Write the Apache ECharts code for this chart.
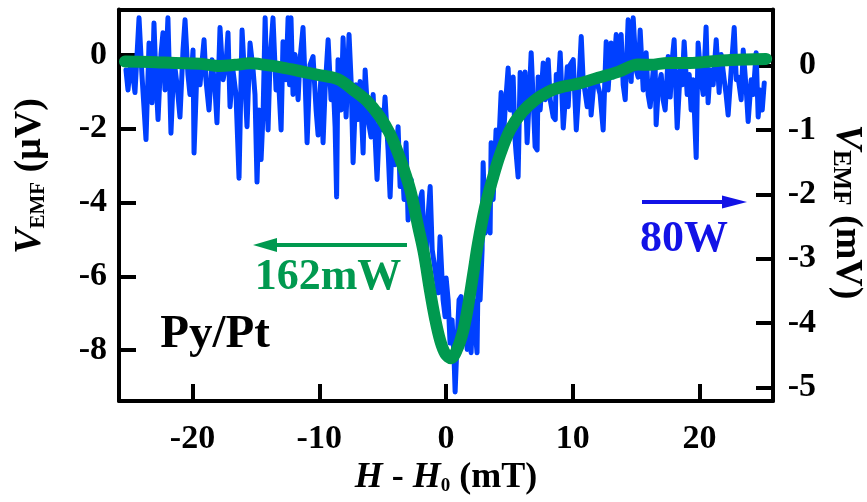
<!DOCTYPE html>
<html>
<head>
<meta charset="utf-8">
<script src="https://cdn.jsdelivr.net/npm/echarts@6/dist/echarts.min.js"></script>
<style>
  html, body { margin: 0; padding: 0; background: #fff; }
  #chart { width: 867px; height: 502px; }
</style>
</head>
<body>
<div id="chart"></div>
<script>
// Measured spin-pumping EMF at 80 W: field offset H - H0 (mT) and EMF (mV)
const blueField = [
  -25.25,-25.09,-24.86,-24.54,-24.22,-23.99,-23.67,-23.43,-23.20,-23.04,
  -22.88,-22.72,-22.49,-22.33,-22.17,-21.94,-21.70,-21.46,-21.22,-20.99,
  -20.75,-20.59,-20.36,-20.20,-19.96,-19.88,-19.65,-19.41,-19.09,-18.94,
  -18.70,-18.46,-18.22,-18.07,-17.83,-17.59,-17.36,-17.20,-17.04,-16.81,
  -16.57,-16.33,-16.09,-15.86,-15.70,-15.46,-15.22,-15.07,-14.91,-14.75,
  -14.59,-14.43,-14.27,-14.04,-13.88,-13.65,-13.41,-13.25,-13.01,-12.86,
  -12.62,-12.46,-12.34,-12.23,-12.07,-11.91,-11.67,-11.52,-11.28,-11.12,
  -10.96,-10.73,-10.49,-10.25,-10.09,-9.86,-9.70,-9.54,-9.30,-9.07,
  -8.91,-8.75,-8.63,-8.52,-8.28,-8.12,-7.88,-7.65,-7.49,-7.33,
  -7.10,-6.94,-6.78,-6.54,-6.38,-6.15,-5.91,-5.75,-5.44,-5.20,
  -4.96,-4.81,-4.57,-4.41,-4.25,-4.02,-3.78,-3.62,-3.46,-3.31,
  -3.15,-2.99,-2.75,-2.52,-2.28,-2.04,-1.89,-1.73,-1.57,-1.41,
  -1.25,-1.09,-0.86,-0.62,-0.47,-0.23,-0.07,0.01,0.17,0.32,
  0.48,0.64,0.72,0.88,1.03,1.19,1.35,1.51,1.67,1.82,
  1.98,2.14,2.30,2.45,2.53,2.69,2.85,2.93,3.09,3.32,
  3.48,3.56,3.72,3.95,4.11,4.35,4.51,4.66,4.90,5.06,
  5.30,5.45,5.53,5.69,5.85,6.01,6.24,6.40,6.56,6.72,
  6.88,7.03,7.19,7.27,7.43,7.67,7.83,8.06,8.22,8.46,
  8.62,8.70,8.85,9.01,9.25,9.41,9.57,9.64,9.80,10.04,
  10.28,10.43,10.67,10.82,10.98,11.14,11.37,11.45,11.69,11.93,
  12.16,12.40,12.64,12.79,13.03,13.19,13.43,13.58,13.82,13.98,
  14.14,14.37,14.61,14.77,15.00,15.16,15.32,15.56,15.79,15.95,
  16.11,16.35,16.50,16.58,16.74,16.98,17.13,17.29,17.53,17.69,
  17.85,18.00,18.24,18.48,18.63,18.79,19.03,19.19,19.34,19.50,
  19.74,19.89,20.13,20.29,20.52,20.68,20.84,21.08,21.32,21.55,
  21.71,21.95,22.10,22.26,22.50,22.74,22.90,23.05,23.29,23.45,
  23.69,23.84,24.08,24.24,24.47,24.63,24.79,24.95,25.11
];
const blueEmf = [
  -0.07,-0.38,0.09,-0.42,0.74,-0.14,-1.15,0.35,-0.58,0.66,
  -0.22,-0.84,0.17,0.51,-0.38,0.74,-1.05,0.09,-0.30,-0.80,
  0.24,0.71,-0.14,-0.45,0.24,-1.36,-0.07,-0.30,0.40,-0.22,
  -0.69,0.09,-0.38,-0.89,0.59,-0.22,0.01,0.51,-0.64,-0.07,
  -0.45,-1.75,0.55,-0.30,-0.95,0.35,-0.07,-0.45,-1.81,-0.69,
  -1.46,-0.73,0.74,-1.00,0.09,0.74,-0.38,-0.07,-1.00,0.37,
  -0.22,0.74,-0.30,0.74,-0.45,0.17,-0.53,0.09,0.59,-0.22,
  -1.20,0.01,0.14,-0.69,-1.08,-0.14,-1.20,-0.38,0.40,-0.53,
  -0.22,-0.95,-2.04,0.09,-0.69,0.43,-0.80,0.48,-0.22,-1.51,
  -0.30,-0.84,-0.25,-1.36,-0.07,-0.84,-1.11,-0.45,-1.77,-0.69,
  -1.00,-0.49,-1.31,-2.04,-1.15,-1.54,-0.95,-1.88,-1.46,-2.08,
  -1.20,-2.40,-1.77,-2.32,-2.50,-2.08,-1.96,-2.71,-3.02,-2.32,
  -1.88,-2.86,-3.17,-3.53,-2.66,-3.64,-3.90,-3.30,-3.64,-4.31,
  -3.95,-4.57,-5.07,-4.26,-3.64,-3.59,-4.10,-3.68,-4.41,-3.79,
  -4.46,-3.64,-4.10,-4.46,-3.28,-3.64,-2.86,-1.51,-2.60,-2.08,
  -2.60,-1.20,-2.08,-1.00,-1.46,-0.42,-1.20,-0.69,-0.04,-0.69,
  -0.18,-1.15,-1.36,-1.73,-0.11,-0.69,-0.10,-1.20,-0.53,0.20,
  -0.53,-1.26,-1.31,-0.18,-0.69,0.04,-0.53,0.09,-0.53,-0.80,
  -0.84,-0.14,-0.38,0.20,-0.97,-0.53,-0.02,-0.64,0.01,0.09,
  -1.00,-0.53,0.45,-0.22,-0.42,-0.64,-0.33,-0.77,-0.22,-0.27,
  -0.45,-1.00,0.37,-0.38,0.35,-0.18,0.48,-0.07,0.48,-0.30,
  -0.53,0.71,-0.25,0.74,-0.07,-0.18,0.55,-0.38,0.20,-0.45,
  -0.64,-0.07,0.01,-0.92,-0.38,-0.14,-0.53,-0.69,0.14,-0.49,
  0.09,0.40,-0.97,-0.07,-0.30,0.37,-0.45,-0.14,-0.69,-0.22,
  -1.43,0.35,-0.22,-0.45,0.60,-0.58,-0.07,-0.30,0.40,-0.42,
  0.17,-0.22,-0.45,-0.77,-0.07,0.59,-0.22,-0.18,-0.53,0.24,
  -0.38,-0.87,-0.22,-0.45,0.20,-0.80,-0.38,-0.69,-0.27
];

// EMF at 162 mW: field offset (mT) and EMF (µV)
const greenField = [
  -25.33,-23.35,-21.38,-19.41,-17.84,-16.65,-15.47,-14.28,-13.10,-11.67,
  -10.10,-8.52,-7.17,-6.23,-5.21,-4.42,-3.63,-2.83,-2.20,-1.73,
  -1.26,-0.86,-0.45,-0.05,0.40,0.85,1.30,1.67,2.14,2.53,
  3.09,3.72,4.27,5.06,6.01,7.03,8.06,9.01,10.43,12.00,
  13.58,15.16,16.10,17.53,19.26,20.84,22.42,25.26
];
const greenEmf = [
  -0.18,-0.19,-0.22,-0.24,-0.30,-0.27,-0.23,-0.27,-0.33,-0.43,
  -0.54,-0.66,-0.99,-1.25,-1.68,-2.14,-2.80,-3.65,-4.65,-5.40,
  -6.40,-7.15,-7.75,-8.10,-8.22,-8.00,-7.55,-6.95,-5.95,-5.10,
  -4.12,-3.31,-2.70,-2.03,-1.55,-1.22,-1.00,-0.88,-0.78,-0.62,
  -0.46,-0.26,-0.27,-0.22,-0.22,-0.18,-0.14,-0.11
];

// Tick positions
const fieldTicks = [-20, -10, 0, 10, 20];
const microVoltTicks = [-8, -6, -4, -2, 0];
const milliVoltTicks = [-5, -4, -3, -2, -1, 0];

const FONT = "'Liberation Serif', 'Times New Roman', serif";
const BLUE = '#0040ff';
const GREEN = '#00994f';
const LABEL_BLUE = '#1212e6';

const frameLine = { show: true, onZero: false, lineStyle: { color: '#000', width: 4 } };
const tickStyle = (vals) => ({ show: true, inside: true, length: 17, customValues: vals,
  lineStyle: { color: '#000', width: 4 } });
const labelStyle = { color: '#000', fontFamily: FONT, fontWeight: 'bold', fontSize: 34 };

const chart = echarts.init(document.getElementById('chart'), null, { renderer: 'canvas' });

chart.setOption({
  animation: false,
  backgroundColor: '#fff',
  grid: { left: 119, right: 94, top: 9.5, bottom: 101, containLabel: false },
  xAxis: [
    {
      type: 'value', min: -25.8, max: 25.8, position: 'bottom',
      axisLine: frameLine,
      axisTick: tickStyle(fieldTicks),
      axisLabel: Object.assign({ customValues: fieldTicks, margin: 21 }, labelStyle),
      splitLine: { show: false }
    },
    {
      type: 'value', min: -25.8, max: 25.8, position: 'top',
      axisLine: frameLine,
      axisTick: { show: false }, axisLabel: { show: false }, splitLine: { show: false }
    }
  ],
  yAxis: [
    {
      type: 'value', min: -9.38, max: 1.23, position: 'left',
      axisLine: frameLine,
      axisTick: tickStyle(microVoltTicks),
      axisLabel: Object.assign({ customValues: microVoltTicks, margin: 12, padding: [8, 0, 0, 0] }, labelStyle),
      splitLine: { show: false }
    },
    {
      type: 'value', min: -5.21, max: 0.87, position: 'right',
      axisLine: frameLine,
      axisTick: tickStyle(milliVoltTicks),
      axisLabel: Object.assign({ customValues: milliVoltTicks, margin: 43, align: 'right', padding: [10, 0, 0, 0] }, labelStyle),
      splitLine: { show: false }
    }
  ],
  series: [
    {
      name: '80W', type: 'line', xAxisIndex: 0, yAxisIndex: 1,
      data: blueField.map((h, i) => [h, blueEmf[i]]),
      showSymbol: false, symbol: 'none', z: 2,
      lineStyle: { color: BLUE, width: 5, join: 'round', cap: 'round' }
    },
    {
      name: '162mW', type: 'line', xAxisIndex: 0, yAxisIndex: 0,
      data: greenField.map((h, i) => [h, greenEmf[i]]),
      showSymbol: false, symbol: 'none', smooth: 0.35, z: 3,
      lineStyle: { color: GREEN, width: 12, join: 'round', cap: 'round' }
    }
  ],
  graphic: [
    // left axis title
    {
      type: 'text', x: 30, y: 176, rotation: Math.PI / 2, z: 10,
      style: {
        text: '{v|V}{s|EMF}{u| (μV)}', align: 'center', verticalAlign: 'middle', fill: '#000',
        rich: {
          v: { fontFamily: FONT, fontWeight: 'bold', fontStyle: 'italic', fontSize: 38, fill: '#000' },
          s: { fontFamily: FONT, fontWeight: 'bold', fontSize: 21, fill: '#000', verticalAlign: 'bottom' },
          u: { fontFamily: FONT, fontWeight: 'bold', fontSize: 38, fill: '#000' }
        }
      }
    },
    // right axis title
    {
      type: 'text', x: 847, y: 212, rotation: -Math.PI / 2, z: 10,
      style: {
        text: '{v|V}{s|EMF}{u| (mV)}', align: 'center', verticalAlign: 'middle', fill: '#000',
        rich: {
          v: { fontFamily: FONT, fontWeight: 'bold', fontStyle: 'italic', fontSize: 38, fill: '#000' },
          s: { fontFamily: FONT, fontWeight: 'bold', fontSize: 25, fill: '#000', verticalAlign: 'bottom' },
          u: { fontFamily: FONT, fontWeight: 'bold', fontSize: 38, fill: '#000' }
        }
      }
    },
    // x axis title
    {
      type: 'text', x: 446, y: 478, z: 10,
      style: {
        text: '{h|H}{m| - }{h|H}{s|0}{m| (mT)}', align: 'center', verticalAlign: 'middle', fill: '#000',
        rich: {
          h: { fontFamily: FONT, fontWeight: 'bold', fontStyle: 'italic', fontSize: 36, fill: '#000' },
          m: { fontFamily: FONT, fontWeight: 'bold', fontSize: 36, fill: '#000' },
          s: { fontFamily: FONT, fontWeight: 'bold', fontSize: 19, fill: '#000', verticalAlign: 'bottom' }
        }
      }
    },
    // sample label
    {
      type: 'text', x: 215, y: 335, z: 10,
      style: { text: 'Py/Pt', align: 'center', verticalAlign: 'middle', fill: '#000',
        fontFamily: FONT, fontWeight: 'bold', fontSize: 47 }
    },
    // 162 mW label and arrow toward the left axis
    {
      type: 'text', x: 328, y: 278, z: 10,
      style: { text: '162mW', align: 'center', verticalAlign: 'middle', fill: GREEN,
        fontFamily: FONT, fontWeight: 'bold', fontSize: 44 }
    },
    {
      type: 'line', z: 10,
      shape: { x1: 407, y1: 245, x2: 270, y2: 245 },
      style: { stroke: GREEN, lineWidth: 4 }
    },
    {
      type: 'polygon', z: 10,
      shape: { points: [[253, 245], [277, 238], [277, 252]] },
      style: { fill: GREEN }
    },
    // 80 W label and arrow toward the right axis
    {
      type: 'text', x: 684, y: 240, z: 10,
      style: { text: '80W', align: 'center', verticalAlign: 'middle', fill: LABEL_BLUE,
        fontFamily: FONT, fontWeight: 'bold', fontSize: 44 }
    },
    {
      type: 'line', z: 10,
      shape: { x1: 642, y1: 202, x2: 730, y2: 202 },
      style: { stroke: LABEL_BLUE, lineWidth: 4 }
    },
    {
      type: 'polygon', z: 10,
      shape: { points: [[747, 202], [722, 195.5], [722, 208.5]] },
      style: { fill: LABEL_BLUE }
    }
  ]
});
</script>
</body>
</html>
